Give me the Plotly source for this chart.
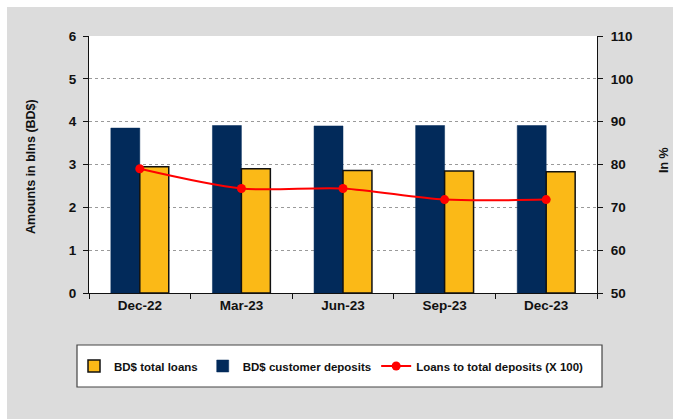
import plotly.graph_objects as go

# Quarter-end categories
quarters = ["Dec-22", "Mar-23", "Jun-23", "Sep-23", "Dec-23"]

# BD$ billions
customer_deposits = [3.85, 3.91, 3.90, 3.91, 3.91]
total_loans = [2.95, 2.90, 2.86, 2.85, 2.83]

# Loans to total deposits (x 100), right axis
loan_ratio = [79.0, 74.4, 74.4, 71.8, 71.8]

left_ticks = [0, 1, 2, 3, 4, 5, 6]
right_ticks = [50, 60, 70, 80, 90, 100, 110]

NAVY = "#022A5A"
GOLD = "#FBB917"
RED = "#FF0000"
PANEL = "#DCDCDC"
FONT = "Liberation Sans, Arial, sans-serif"

# plot area in page pixels
W, H = 673, 419
L, R, T, B = 89, 597, 36, 293
pw, ph = R - L, B - T


def px_x(x):
    return (x - L) / pw


def px_y(y):
    return (B - y) / ph


fig = go.Figure()

fig.add_trace(go.Bar(
    x=quarters, y=customer_deposits, name="BD$ customer deposits",
    marker=dict(color=NAVY, line=dict(color=NAVY, width=0.5)),
    legendrank=2,
))
fig.add_trace(go.Bar(
    x=quarters, y=total_loans, name="BD$ total loans",
    marker=dict(color=GOLD, line=dict(color="#111111", width=1.5)),
    legendrank=1,
))
fig.add_trace(go.Scatter(
    x=quarters, y=loan_ratio, name="Loans to total deposits (X 100)",
    yaxis="y2", mode="lines+markers",
    line=dict(color=RED, width=2, shape="spline", smoothing=0.8),
    marker=dict(color=RED, size=9),
    legendrank=3,
))

tickfont = dict(family=FONT, size=13.5, color="#111111", weight="bold")

fig.update_layout(
    width=W, height=H,
    margin=dict(l=L, r=W - R, t=T, b=H - B),
    paper_bgcolor="white",
    plot_bgcolor="white",
    barmode="group",
    bargap=0.43,
    bargroupgap=0,
    showlegend=True,
    legend=dict(
        orientation="h",
        x=px_x(74), xanchor="left",
        y=px_y(366), yanchor="middle",
        bgcolor="rgba(0,0,0,0)", borderwidth=0,
        font=dict(family=FONT, size=11.5, color="#111111", weight="bold"),
        itemwidth=30, traceorder="normal",
    ),
    xaxis=dict(
        showline=True, linecolor="#111111", linewidth=1,
        ticks="outside", tickson="boundaries", ticklen=5, tickcolor="#111111",
        tickfont=tickfont, showgrid=False,
    ),
    yaxis=dict(
        range=[0, 6], tickvals=left_ticks, showline=True, linecolor="#111111",
        linewidth=1, ticks="outside", ticklen=5, tickcolor="#111111",
        tickfont=tickfont, showgrid=True, gridcolor="#9A9A9A", griddash="dot",
        gridwidth=1, zeroline=False, ticklabelstandoff=4,
    ),
    yaxis2=dict(
        range=[50, 110], tickvals=right_ticks, overlaying="y", side="right",
        showline=True, linecolor="#111111", linewidth=1, ticks="outside",
        ticklen=5, tickcolor="#111111", tickfont=tickfont, showgrid=False,
        zeroline=False, ticklabelstandoff=5,
    ),
    shapes=[
        # grey panel behind everything
        dict(type="rect", xref="paper", yref="paper", layer="below",
             x0=px_x(7), x1=px_x(W + 2), y0=px_y(H + 2), y1=px_y(7),
             fillcolor=PANEL, line=dict(width=0)),
        # white plotting area
        dict(type="rect", xref="paper", yref="paper", layer="below",
             x0=0, x1=1, y0=0, y1=1, fillcolor="white", line=dict(width=0)),
        # legend frame
        dict(type="rect", xref="paper", yref="paper", layer="below",
             x0=px_x(77), x1=px_x(602), y0=px_y(387), y1=px_y(345),
             fillcolor="white", line=dict(color="#444444", width=1.2)),
    ],
    annotations=[
        dict(text="Amounts in blns (BD$)", xref="paper", yref="paper",
             x=px_x(31), y=px_y(167), textangle=-90, showarrow=False,
             xanchor="center", yanchor="middle",
             font=dict(family=FONT, size=12.5, color="#111111", weight="bold")),
        dict(text="In %", xref="paper", yref="paper",
             x=px_x(664), y=px_y(160), textangle=-90, showarrow=False,
             xanchor="center", yanchor="middle",
             font=dict(family=FONT, size=12.5, color="#111111", weight="bold")),
    ],
)

fig.write_html("out.html")
